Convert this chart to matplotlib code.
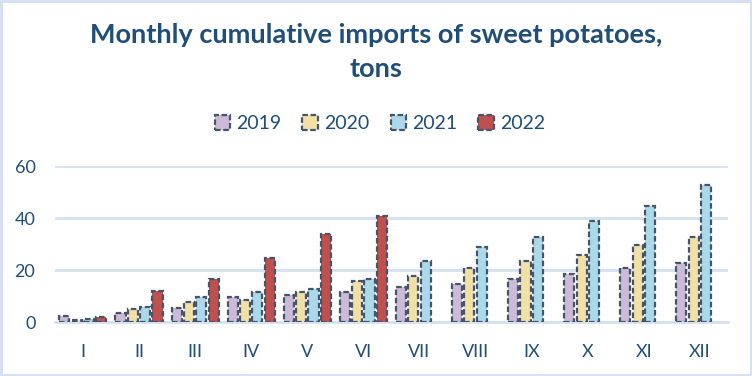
import numpy as np
import matplotlib.pyplot as plt

months = ["I", "II", "III", "IV", "V", "VI", "VII", "VIII", "IX", "X", "XI", "XII"]
years = ["2019", "2020", "2021", "2022"]
v2019 = [2.5, 3.3, 5.2, 9.6, 10.5, 11.5, 13.5, 14.7, 16.6, 18.5, 20.8, 22.7]
v2020 = [0.9, 4.9, 7.8, 8.3, 11.5, 15.8, 17.6, 20.8, 23.6, 25.8, 29.6, 32.7]
v2021 = [1.3, 5.7, 9.8, 11.5, 12.8, 16.6, 23.5, 28.9, 32.7, 38.8, 44.6, 52.6]
v2022 = [2.0, 11.8, 16.7, 24.5, 33.7, 40.6]
series = [v2019, v2020, v2021, v2022]
colors = ["#CBBAD8", "#F3E0A9", "#ABD9E9", "#C0504D"]

text_col = "#1F4E79"
plt.rcParams['font.family'] = ['Lato', 'DejaVu Sans']

fig = plt.figure(figsize=(7.52, 3.76), dpi=100)
fig.patch.set_edgecolor("#D5E1F0")
fig.patch.set_linewidth(2.5)
ax = fig.add_axes([0.073, 0.1436, 0.895, 0.4149])

x = np.arange(len(months))
w = 0.18
step = 0.22
for i, (vals, c, lab) in enumerate(zip(series, colors, years)):
    pos = x[:len(vals)] + (i - 1.5) * step
    ax.bar(pos, vals, w, color=c, edgecolor="#44546A", linewidth=1.6,
           linestyle=(0, (2.5, 1.2)), label=lab, zorder=3)

ax.set_xlim(-0.5, len(months) - 0.5)
ax.set_ylim(0, 60)
ax.set_yticks([0, 20, 40, 60])
ax.set_xticks(x)
ax.set_xticklabels(months)
ax.tick_params(axis='both', length=0, labelsize=13, labelcolor=text_col)
ax.tick_params(axis='x', pad=16)
ax.tick_params(axis='y', pad=14)
ax.grid(axis='y', color="#D5E1F0", linewidth=2, zorder=0)
for s in ["top", "right", "left"]:
    ax.spines[s].set_visible(False)
ax.spines["bottom"].set_color("#D5E1F0")
ax.spines["bottom"].set_linewidth(2)

fig.text(0.5, 0.862, "Monthly cumulative imports of sweet potatoes,\ntons",
         ha='center', va='center', fontsize=19.5, fontweight='bold',
         color=text_col, linespacing=1.5)
fig.legend(loc='center', bbox_to_anchor=(0.505, 0.672), ncol=4, frameon=False,
           fontsize=14, labelcolor=text_col, handlelength=0.8, handleheight=0.8,
           handletextpad=0.3, columnspacing=1.1)

fig.savefig("out.png", dpi=100)
